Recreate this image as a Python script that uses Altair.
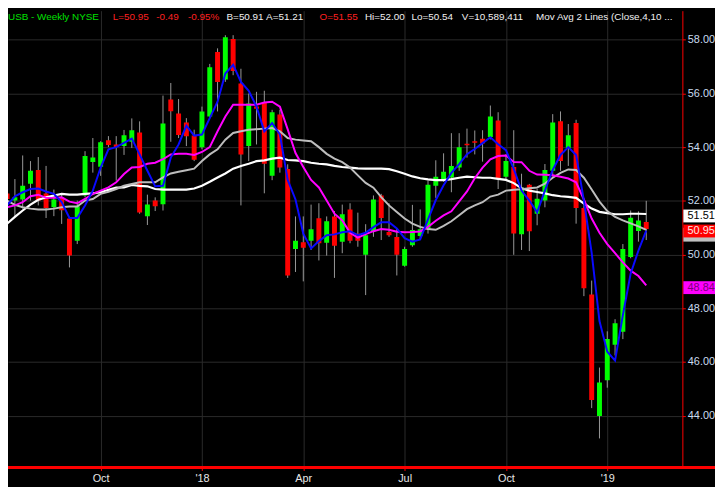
import json
import altair as alt
import pandas as pd

# ---------------- data ----------------
opens = [52.27, 52.01, 52.05, 52.64, 53.15, 52.27, 51.76, 52.12, 51.34, 50.51,
         52.20, 53.45, 53.27, 54.26, 54.10, 54.04, 54.20, 54.55, 51.43, 52.01,
         51.87, 55.77, 55.25, 54.92, 54.43, 54.00, 55.14, 57.54, 56.52, 58.03,
         56.37, 54.04, 55.51, 55.66, 52.93, 55.22, 53.19, 50.21, 50.46, 50.51,
         51.35, 50.44, 51.42, 50.48, 51.68, 50.77, 49.99, 50.87, 52.20, 50.84,
         50.65, 49.58, 50.35, 50.69, 50.94, 52.56, 52.77, 52.87, 53.24, 54.13,
         54.22, 54.31, 54.38, 54.99, 52.90, 53.26, 50.76, 52.60, 51.52, 52.01,
         53.12, 54.96, 53.97, 54.90, 51.73, 48.51, 43.99, 45.32, 46.64, 47.12,
         49.91, 50.88, 51.21]
closes = [52.07, 52.13, 52.56, 53.12, 52.01, 51.73, 52.05, 51.65, 49.96, 51.80,
          53.67, 53.61, 54.18, 54.08, 54.00, 54.44, 54.63, 51.57, 51.86, 51.80,
          54.88, 55.34, 54.45, 54.41, 53.53, 55.33, 56.98, 56.43, 58.09, 56.84,
          53.73, 55.63, 55.43, 53.38, 55.30, 53.24, 49.22, 50.51, 50.25, 50.94,
          50.42, 51.24, 50.33, 51.50, 50.51, 50.51, 50.72, 52.05, 51.36, 50.72,
          49.99, 50.21, 50.91, 50.94, 52.60, 52.90, 53.08, 53.30, 54.00, 54.07,
          54.16, 54.14, 55.14, 52.81, 53.48, 50.78, 52.49, 50.87, 52.08, 53.15,
          54.92, 53.48, 54.44, 51.73, 48.74, 44.58, 45.23, 46.85, 47.44, 50.21,
          51.37, 51.27, 50.95]
highs = [52.44, 52.81, 53.69, 53.48, 53.63, 53.30, 52.42, 52.29, 51.40, 52.01,
         53.85, 54.34, 54.22, 54.41, 54.41, 54.64, 55.07, 54.96, 52.23, 52.13,
         55.92, 56.39, 55.79, 55.08, 54.65, 55.51, 57.10, 57.68, 58.17, 58.17,
         56.92, 56.00, 56.06, 56.10, 55.39, 55.39, 53.36, 51.42, 51.42, 51.86,
         51.91, 51.42, 51.62, 51.86, 51.91, 51.56, 51.13, 52.20, 52.26, 51.91,
         50.97, 50.29, 51.85, 51.68, 52.75, 53.51, 53.77, 54.52, 54.52, 54.69,
         54.62, 54.63, 55.55, 55.30, 53.74, 54.63, 53.01, 52.63, 52.44, 53.37,
         55.23, 55.33, 54.86, 55.02, 51.95, 49.03, 45.79, 47.14, 47.59, 50.39,
         51.64, 51.61, 52.00]
lows = [51.91, 51.40, 51.71, 52.01, 51.83, 51.36, 51.43, 51.14, 49.52, 50.39,
        52.13, 53.05, 52.93, 54.00, 52.75, 53.71, 53.97, 51.52, 51.10, 51.62,
        51.64, 54.20, 54.34, 54.04, 53.48, 53.92, 55.08, 55.33, 56.43, 56.68,
        51.83, 53.48, 54.10, 52.28, 52.77, 53.05, 49.13, 49.35, 49.00, 50.17,
        49.78, 49.96, 49.13, 50.05, 50.42, 50.29, 48.49, 50.66, 50.54, 50.66,
        49.22, 49.55, 50.29, 50.54, 50.78, 52.11, 52.71, 52.32, 53.12, 53.61,
        53.73, 53.46, 54.29, 52.44, 52.75, 49.99, 50.17, 50.13, 51.09, 51.76,
        52.90, 53.12, 53.30, 51.15, 48.45, 44.28, 43.15, 45.04, 46.24, 46.85,
        49.86, 50.48, 50.54]

ma_blue = [51.83, 52.17, 52.32, 52.44, 52.46, 52.35, 52.26, 51.95, 51.36, 51.36,
           51.83, 52.38, 53.24, 53.92, 54.00, 54.16, 54.32, 53.73, 53.12, 52.54,
           52.56, 53.61, 54.10, 54.80, 54.43, 54.47, 55.08, 55.69, 56.74, 57.07,
           56.43, 56.10, 55.51, 54.59, 54.90, 54.47, 52.78, 52.05, 50.78, 50.23,
           50.50, 50.72, 50.75, 50.83, 50.87, 50.72, 50.81, 51.02, 51.20, 51.20,
           50.97, 50.61, 50.48, 50.56, 51.31, 52.03, 52.58, 53.04, 53.37, 53.74,
           53.93, 54.15, 54.37, 54.11, 53.89, 53.19, 52.38, 52.01, 51.57, 52.38,
           53.15, 53.71, 54.00, 53.71, 52.01, 50.06, 47.52, 46.38, 46.05, 47.74,
           49.29, 50.15, 50.89]
ma_magenta = [51.76, 51.83, 51.95, 52.17, 52.23, 52.11, 52.11, 52.13, 51.97, 51.91,
              52.07, 52.26, 52.38, 52.50, 52.69, 53.00, 53.24, 53.26, 53.38, 53.42,
              53.55, 53.73, 53.75, 53.75, 53.71, 53.82, 54.00, 54.59, 55.14, 55.58,
              55.58, 55.58, 55.58, 55.66, 55.69, 55.51, 54.66, 53.78, 53.26, 52.78,
              52.50, 52.01, 51.52, 51.27, 50.81, 50.63, 50.76, 50.87, 50.95, 50.92,
              50.85, 50.83, 50.84, 50.86, 51.03, 51.26, 51.46, 51.61, 51.98, 52.35,
              52.84, 53.24, 53.55, 53.67, 53.69, 53.45, 53.44, 53.12, 52.98, 52.97,
              52.95, 52.90, 52.83, 52.69, 52.05, 51.34, 50.81, 50.39, 50.05, 49.71,
              49.40, 49.20, 48.85]
ma_gray = [52.01, 51.85, 51.76, 51.71, 51.68, 51.68, 51.71, 51.76, 51.79, 51.79,
           52.01, 52.07, 52.26, 52.34, 52.44, 52.56, 52.63, 52.69, 52.69, 52.69,
           52.87, 53.02, 53.08, 53.14, 53.20, 53.48, 53.73, 53.92, 54.28, 54.53,
           54.59, 54.65, 54.67, 54.69, 54.71, 54.59, 54.34, 54.28, 54.25, 54.22,
           54.00, 53.75, 53.57, 53.44, 53.24, 52.95, 52.67, 52.49, 52.14, 51.83,
           51.58, 51.34, 51.15, 51.03, 50.95, 50.92, 51.07, 51.24, 51.46, 51.69,
           51.83, 51.95, 52.16, 52.23, 52.38, 52.41, 52.43, 52.47, 52.50, 52.64,
           52.86, 53.04, 53.17, 53.15, 52.86, 52.42, 51.97, 51.62, 51.40, 51.27,
           51.16, 51.05, 50.92]
ma_white = [51.15, 51.40, 51.64, 51.86, 52.04, 52.13, 52.20, 52.26, 52.23, 52.23,
            52.26, 52.28, 52.32, 52.41, 52.49, 52.50, 52.59, 52.56, 52.54, 52.44,
            52.42, 52.42, 52.42, 52.42, 52.46, 52.56, 52.71, 52.87, 53.02, 53.20,
            53.30, 53.38, 53.48, 53.51, 53.57, 53.61, 53.52, 53.51, 53.48, 53.42,
            53.38, 53.36, 53.30, 53.26, 53.24, 53.21, 53.20, 53.20, 53.20, 53.18,
            53.10, 53.01, 52.91, 52.84, 52.80, 52.77, 52.77, 52.81, 52.86, 52.90,
            52.88, 52.86, 52.86, 52.82, 52.78, 52.66, 52.47, 52.38, 52.33, 52.28,
            52.21, 52.17, 52.15, 52.11, 51.90, 51.71, 51.59, 51.54, 51.50, 51.50,
            51.52, 51.52, 51.51]

weeks = list(range(1, len(opens) + 1))

tick_weeks = [13, 26, 39, 52, 65, 78]
tick_labels = ["Oct", "'18", "Apr", "Jul", "Oct", "'19"]
price_ticks = [44, 46, 48, 50, 52, 54, 56, 58]

# last-value flags on the price axis (gray one sits mostly hidden behind red)
hidden_value = [50.85]
hidden_color = ["#c0c0c0"]
last_values = [51.51, 50.95, 48.84]
last_texts = ["51.51", "50.95", "48.84"]
last_box_colors = ["#ffffff", "#ff0000", "#ff00ff"]
last_text_colors = ["#000000", "#ffe6e6", "#7a007a"]

header_texts = ["USB - Weekly  NYSE", "L=50.95", "-0.49", "-0.95%", "B=50.91",
                "A=51.21", "O=51.55", "Hi=52.00", "Lo=50.54", "V=10,589,411",
                "Mov Avg 2 Lines (Close,4,10 ..."]
header_colors = ["#00e000", "#ff2020", "#ff2020", "#ff2020", "#f0f0f0",
                 "#f0f0f0", "#ff2020", "#f0f0f0", "#f0f0f0", "#f0f0f0", "#f0f0f0"]

# ---------------- layout ----------------
W, H = 682, 462
header_x = [0, 106, 150, 182, 221, 261, 315, 361, 408, 459, 534]

ohlc = pd.DataFrame({"week": weeks, "open": opens, "high": highs,
                     "low": lows, "close": closes})
ma = pd.DataFrame({"week": weeks, "blue": ma_blue, "magenta": ma_magenta,
                   "gray": ma_gray, "white": ma_white})
hid = pd.DataFrame({"v": hidden_value, "box": hidden_color})
lab = pd.DataFrame({"v": last_values, "t": last_texts, "box": last_box_colors,
                    "tc": last_text_colors})
hdr = pd.DataFrame({"t": header_texts, "c": header_colors, "hx": header_x})

label_expr = " : ".join(f"datum.value == {w} ? {json.dumps(l)}"
                        for w, l in zip(tick_weeks, tick_labels)) + " : ''"

xscale = alt.Scale(domain=[1.75, 87], nice=False, zero=False)
yscale = alt.Scale(domain=[42.067, 59.083], nice=False, zero=False)
xaxis = alt.Axis(values=tick_weeks, labelExpr=label_expr, title=None, grid=True,
                 gridColor="#2a2a2a", domain=False, tickColor="#ff0000", tickSize=3,
                 labelColor="#e6e6e6", labelFontSize=11, labelPadding=2,
                 labelFont="Liberation Sans")
yaxis = alt.Axis(values=price_ticks, format=".2f", orient="right", title=None,
                 grid=True, gridColor="#2a2a2a", domainColor="#ff0000",
                 tickColor="#ff0000", tickSize=3, labelColor="#c9dbef",
                 labelFontSize=11, labelPadding=2, labelFont="Liberation Sans")


def X():
    return alt.X("week:Q", scale=xscale, axis=xaxis)


def Y(f):
    return alt.Y(f"{f}:Q", scale=yscale, axis=yaxis)


base = alt.Chart(ohlc)
wicks = base.mark_rule(color="#999999", strokeWidth=1, clip=True).encode(
    x=X(), y=Y("low"), y2="high")
bodies = base.mark_bar(size=5, clip=True).encode(
    x=X(), y=Y("open"), y2="close",
    color=alt.condition("datum.close >= datum.open", alt.value("#00ff00"),
                        alt.value("#ff0000")))

mabase = alt.Chart(ma)
lines = []
for col, colr, w in [("white", "#ffffff", 2.2), ("gray", "#bdbdbd", 2),
                     ("magenta", "#ff00ff", 2), ("blue", "#0a0aff", 2)]:
    lines.append(mabase.mark_line(color=colr, strokeWidth=w, clip=True).encode(
        x=X(), y=Y(col)))

bottom = alt.Chart(ohlc).mark_rule(color="#ff0000", strokeWidth=1.5).encode(
    x=alt.value(0), x2=alt.value(W + 33), y=alt.value(H))

hidden_box = alt.Chart(hid).mark_tick(orient="horizontal", size=32, thickness=14,
                                      opacity=1, yOffset=3).encode(
    x=alt.value(699), y=Y("v"), color=alt.Color("box:N", scale=None))
boxes = alt.Chart(lab).mark_tick(orient="horizontal", size=32, thickness=13,
                                 opacity=1, yOffset=2).encode(
    x=alt.value(699), y=Y("v"), color=alt.Color("box:N", scale=None))
btexts = alt.Chart(lab).mark_text(fontSize=11, font="Liberation Sans", align="center",
                                  baseline="middle", dy=2).encode(
    x=alt.value(701), y=Y("v"), text="t:N", color=alt.Color("tc:N", scale=None))

header = alt.Chart(hdr).mark_text(fontSize=10, font="Liberation Sans", align="left",
                                  baseline="top", clip=True).encode(
    x=alt.X("hx:Q", scale=None), y=alt.value(1), text="t:N",
    color=alt.Color("c:N", scale=None))

chart = alt.layer(wicks, bodies, *lines, bottom, hidden_box, boxes, btexts,
                  header).properties(
    width=W, height=H,
    autosize=alt.AutoSizeParams(type="none"),
    padding={"left": 0, "top": 0, "right": 33, "bottom": 17},
    background="#000000",
).configure_view(stroke=None)

chart.save("out.html", embed_options={"renderer": "svg", "actions": False})
